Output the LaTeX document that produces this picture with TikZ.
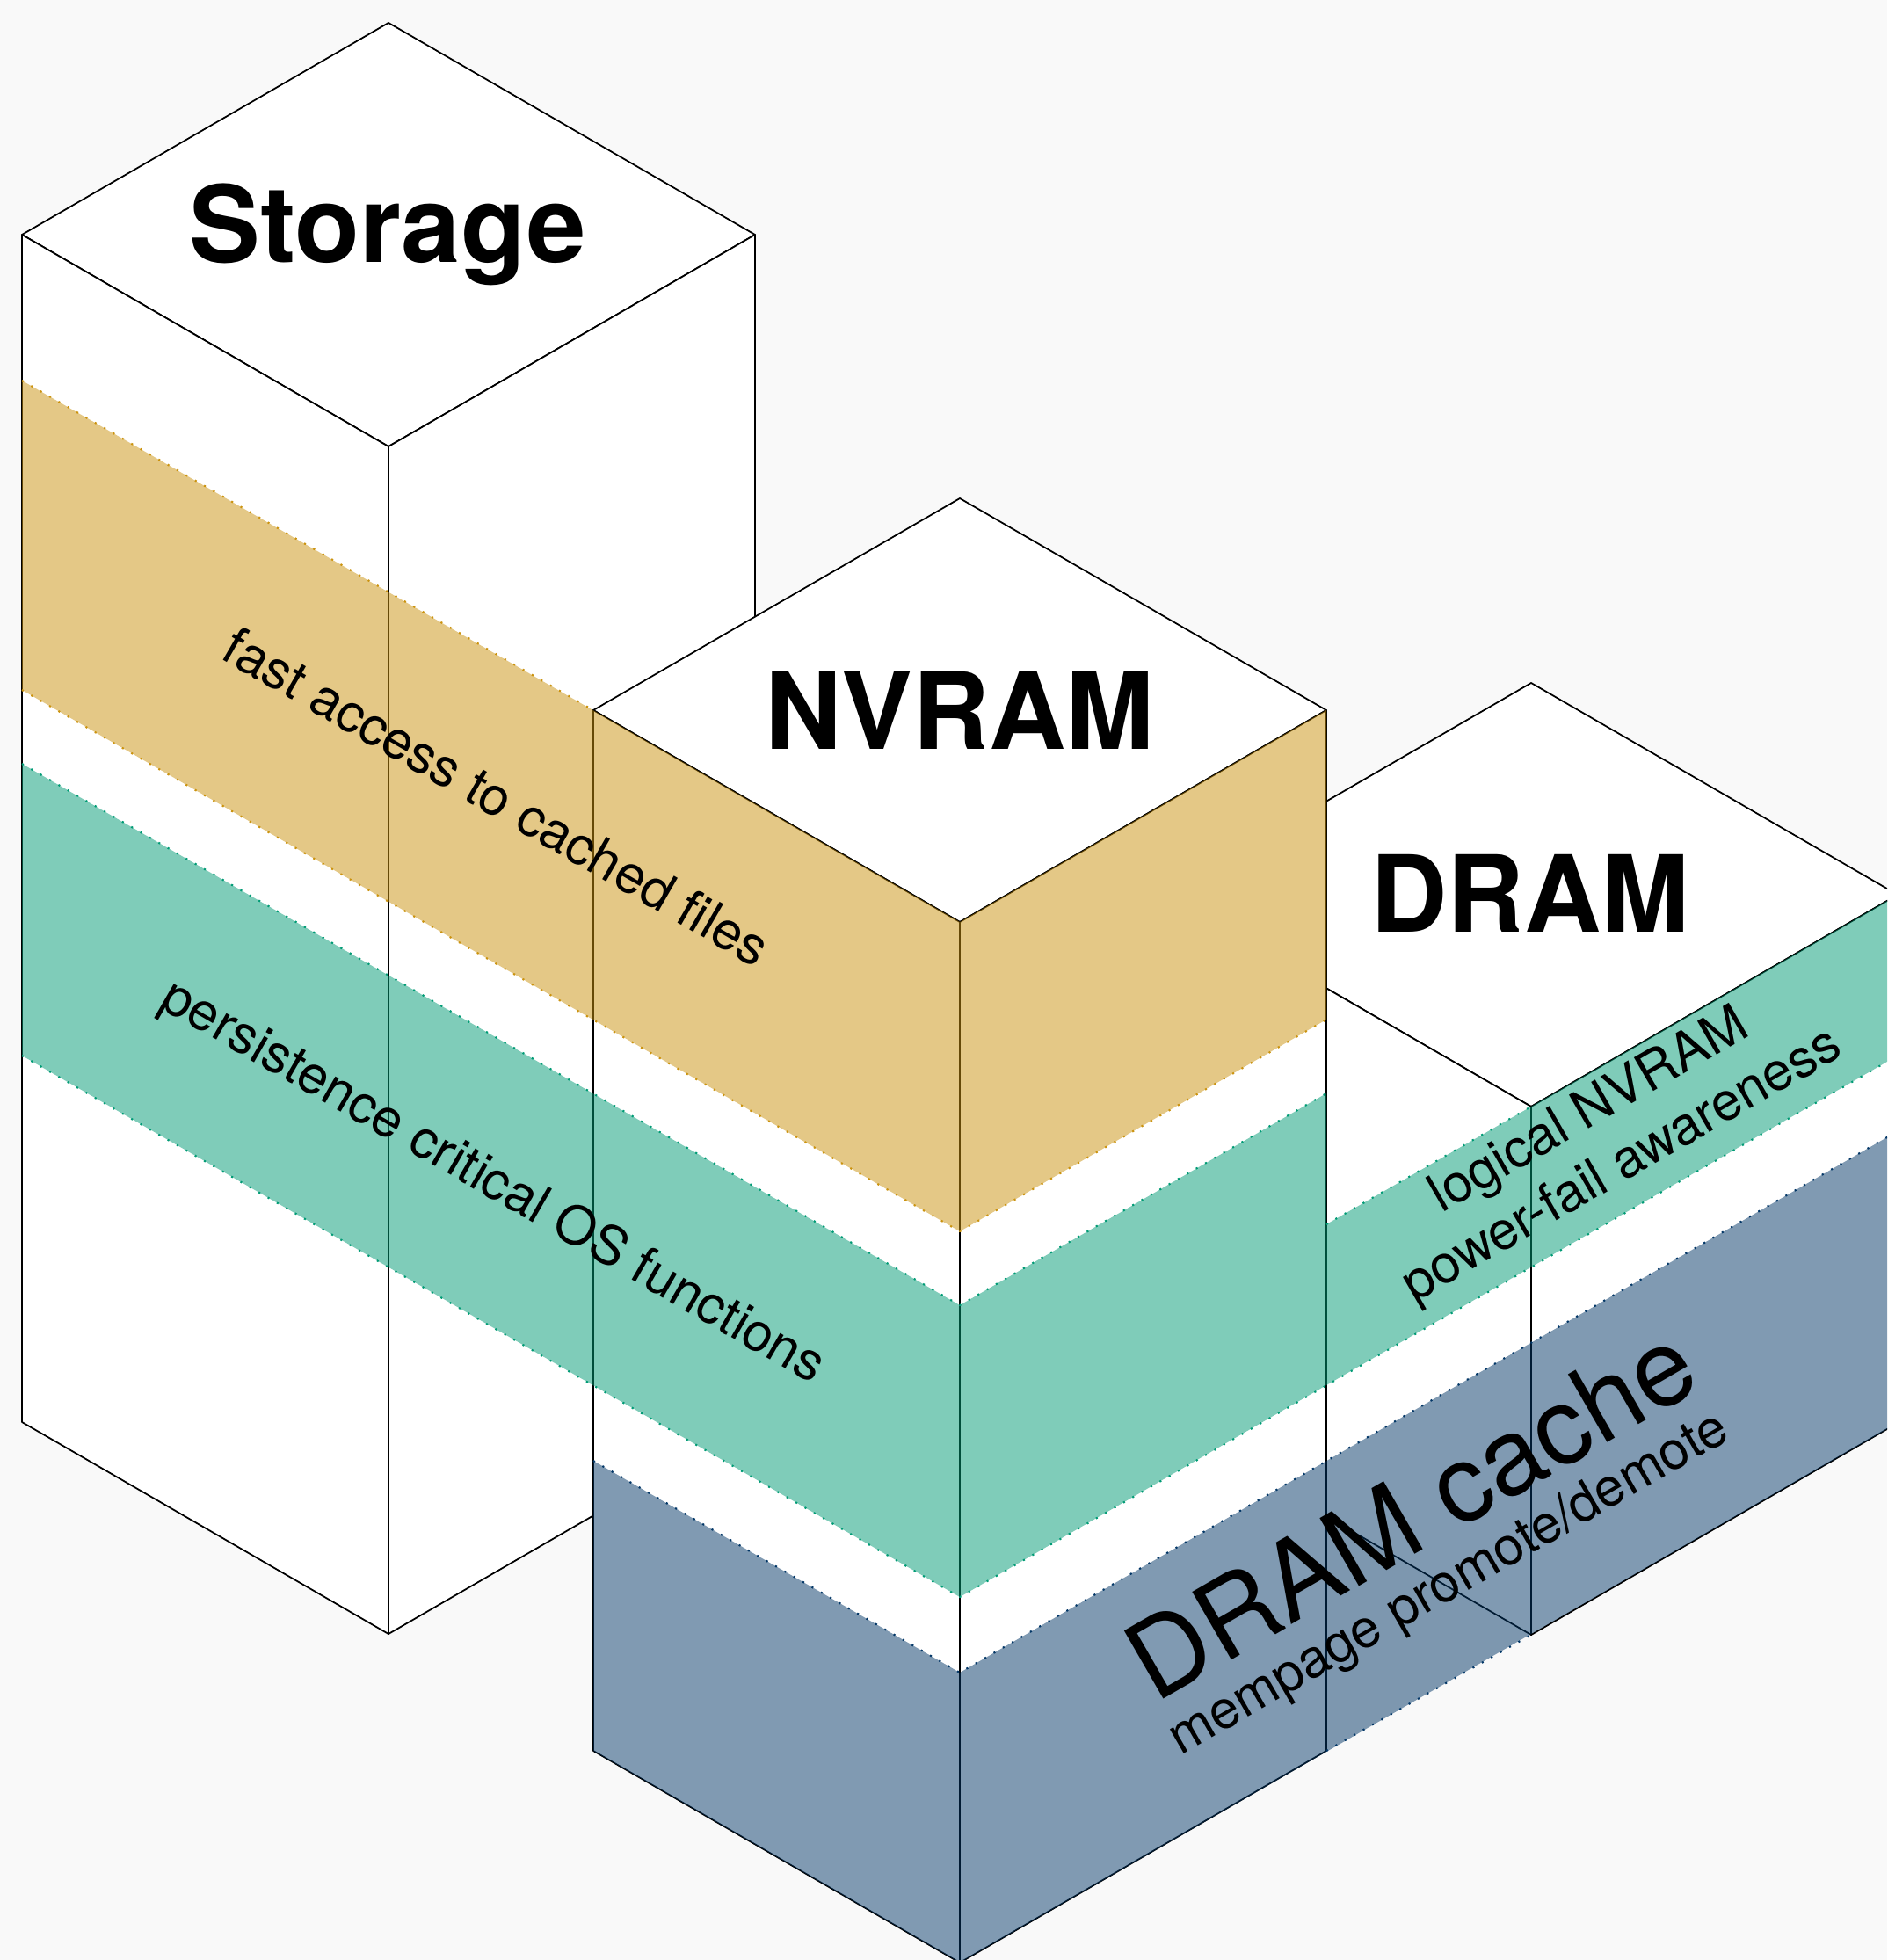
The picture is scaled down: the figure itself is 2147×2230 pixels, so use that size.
\documentclass[tikz,border=0pt]{standalone}
\usepackage{fontspec}
\setmainfont{TeX Gyre Heros}

\definecolor{canvas}{HTML}{F9F9F9}
\definecolor{cachegold}{RGB}{203,147,15}
\definecolor{persistgreen}{RGB}{1,155,117}
\definecolor{dramblue}{RGB}{3,55,103}

\begin{document}
\begin{tikzpicture}[
    x=0.01cm, y=-0.01cm,
    face/.style={fill=white, draw=black, line width=0.5pt, line join=round},
    band/.style={fill=#1, fill opacity=0.5, draw=none},
    bandedge/.style={draw=#1, line width=0.6pt, dash pattern=on 0.6pt off 2.8pt},
    title/.style={font=\fontsize{34.4}{40}\selectfont\bfseries, anchor=base, inner sep=0pt},
    bandlabel/.style={font=\fontsize{17.2}{20}\selectfont, anchor=base, inner sep=0pt}
]
    \useasboundingbox (0,0) rectangle (2147,2230);
    \fill[canvas] (0,0) rectangle (2147,2230);
    \clip (0,0) rectangle (2147,2230);

    % the three columns: storage, dram, nvram (back to front)
    \foreach \cx/\ty/\h in {442/26/1351, 1742/777/601, 1092/567/1184} {
        \draw[face] (\cx,\ty) -- ({\cx+417},{\ty+241}) -- (\cx,{\ty+482}) -- ({\cx-417},{\ty+241}) -- cycle;
        \draw[face] ({\cx-417},{\ty+241}) -- (\cx,{\ty+482}) -- (\cx,{\ty+482+\h}) -- ({\cx-417},{\ty+241+\h}) -- cycle;
        \draw[face] (\cx,{\ty+482}) -- ({\cx+417},{\ty+241}) -- ({\cx+417},{\ty+241+\h}) -- (\cx,{\ty+482+\h}) -- cycle;
    }

    % layers across the columns
    \fill[band=cachegold] (25,433) -- (1092,1049) -- (1509,808) -- (1509,1160) -- (1092,1401) -- (25,785) -- cycle;
    \fill[band=persistgreen] (25,869) -- (1092,1485) -- (1509,1244) -- (1509,1576) -- (1092,1817) -- (25,1201) -- cycle;
    \fill[band=persistgreen] (1509,1393) -- (1742,1259) -- (2159,1018) -- (2159,1201) -- (1509,1576) -- cycle;
    \fill[band=dramblue] (675,1662) -- (1092,1903) -- (2159,1287) -- (2159,1619) -- (1092,2233) -- (675,1992) -- cycle;

    \draw[bandedge=cachegold] (25,433) -- (675,808);
    \draw[bandedge=cachegold] (25,785) -- (1092,1401) -- (1509,1160);
    \draw[bandedge=persistgreen] (25,869) -- (1092,1485) -- (1509,1244);
    \draw[bandedge=persistgreen] (25,1201) -- (1092,1817) -- (2159,1201);
    \draw[bandedge=persistgreen] (1509,1393) -- (1742,1259);
    \draw[bandedge=dramblue] (675,1662) -- (1092,1903) -- (2159,1287);
    \draw[bandedge=dramblue] (1509,1992) -- (1742,1860);

    % column titles
    \node[title] (storage) at (441,298) {Storage};
    \node[title] (nvram) at (1092,852) {NVRAM};
    \node[title] (dram) at (1741,1060) {DRAM};

    % layer labels
    \node[bandlabel, rotate=-30] (fastaccess) at (555,925) {fast access to cached files};
    \node[bandlabel, rotate=-30] (persist) at (552,1360) {persistence critical OS functions};
    \node[bandlabel, rotate=30] (logical) at (1817,1279) {logical NVRAM};
    \node[bandlabel, rotate=30] (powerfail) at (1854,1341) {power-fail awareness};
    \node[bandlabel, rotate=30, font=\fontsize{34.8}{40}\selectfont] (cache) at (1627,1758) {DRAM cache};
    \node[bandlabel, rotate=30] (mempage) at (1657,1817) {mempage promote/demote};
\end{tikzpicture}
\end{document}
